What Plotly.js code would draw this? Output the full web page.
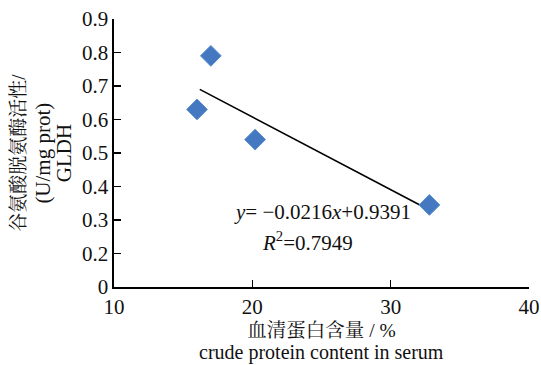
<!DOCTYPE html>
<html>
<head>
<meta charset="utf-8">
<script src="https://cdn.plot.ly/plotly-3.0.1.min.js"></script>
<style>html,body{margin:0;padding:0;background:#fff;}#chart{width:541px;height:365px;}</style>
</head>
<body>
<div id="chart"></div>
<script>
// Data
var proteinX = [16.0, 17.0, 20.2, 32.8];          // crude protein content in serum, %
var gldhY = [0.63, 0.79, 0.54, 0.345];            // GLDH activity, U/mg prot (as drawn)
var trendX = [16.2, 32.8];                        // fitted line end points
var trendY = [0.69, 0.33];
var xTickVals = [10, 20, 30, 40];
var xTickText = ['10', '20', '30', '40'];
var yTickVals = [0.1, 0.2, 0.3, 0.4, 0.5, 0.6, 0.7, 0.8, 0.9];
var yTickText = ['0', '0.2', '0.3', '0.4', '0.5', '0.6', '0.7', '0.8', '0.9'];
var eqText = '<i>y</i>= −0.0216<i>x</i>+0.9391';
var r2Text = '<i>R</i><sup>2</sup>=0.7949';
var xTitle1 = '血清蛋白含量 / %';
var xTitle2 = 'crude protein content in serum';
var yTitle1 = '谷氨酸脱氨酶活性/';
var yTitle2 = '(U/mg prot)';
var yTitle3 = 'GLDH';

var FONT = '"Liberation Serif", "Times New Roman", "Noto Serif CJK SC", "Noto Sans CJK SC", serif';
var FS = 21;

var traces = [
  {
    x: trendX, y: trendY, type: 'scatter', mode: 'lines',
    line: {color: '#000000', width: 1.6}, hoverinfo: 'skip', showlegend: false
  },
  {
    x: proteinX, y: gldhY, type: 'scatter', mode: 'markers',
    marker: {symbol: 'diamond', size: 16, color: '#4479c1', line: {color: '#5b8fd0', width: 1}},
    showlegend: false
  }
];

var axisCommon = {
  showline: true, linecolor: '#000', linewidth: 1.6,
  ticks: 'inside', ticklen: 7, tickwidth: 1.5, tickcolor: '#000',
  showgrid: false, zeroline: false, mirror: false,
  tickfont: {family: FONT, size: FS, color: '#111'}
};

var layout = {
  width: 541, height: 365,
  margin: {l: 114, r: 12, t: 19, b: 78},
  paper_bgcolor: '#fff', plot_bgcolor: '#fff',
  font: {family: FONT, color: '#111'},
  xaxis: Object.assign({}, axisCommon, {
    range: [10, 40], tickmode: 'array', tickvals: xTickVals, ticktext: xTickText,
    title: {text: xTitle1, font: {family: FONT, size: 19.5, color: '#111'}, standoff: 5}
  }),
  yaxis: Object.assign({}, axisCommon, {
    range: [0.1, 0.9], tickmode: 'array', tickvals: yTickVals, ticktext: yTickText,
    title: {text: yTitle1, font: {family: FONT, size: 19, color: '#111'}, standoff: 51}
  }),
  annotations: [
    {text: xTitle2, xref: 'paper', yref: 'paper', x: 0.5, y: -0.244, xanchor: 'center', yanchor: 'middle',
     showarrow: false, font: {family: FONT, size: 20, color: '#111'}},
    {text: yTitle2, xref: 'paper', yref: 'paper', x: -0.172, y: 0.5, xanchor: 'center', yanchor: 'middle',
     textangle: -90, showarrow: false, font: {family: FONT, size: FS, color: '#111'}},
    {text: yTitle3, xref: 'paper', yref: 'paper', x: -0.12, y: 0.5, xanchor: 'center', yanchor: 'middle',
     textangle: -90, showarrow: false, font: {family: FONT, size: FS, color: '#111'}},
    {text: eqText, xref: 'x', yref: 'y', x: 25.1, y: 0.323, xanchor: 'center', yanchor: 'middle',
     showarrow: false, font: {family: FONT, size: FS, color: '#111'}},
    {text: r2Text, xref: 'x', yref: 'y', x: 24.0, y: 0.236, xanchor: 'center', yanchor: 'middle',
     showarrow: false, font: {family: FONT, size: FS, color: '#111'}}
  ]
};

Plotly.newPlot('chart', traces, layout, {staticPlot: true, displayModeBar: false});
</script>
</body>
</html>
